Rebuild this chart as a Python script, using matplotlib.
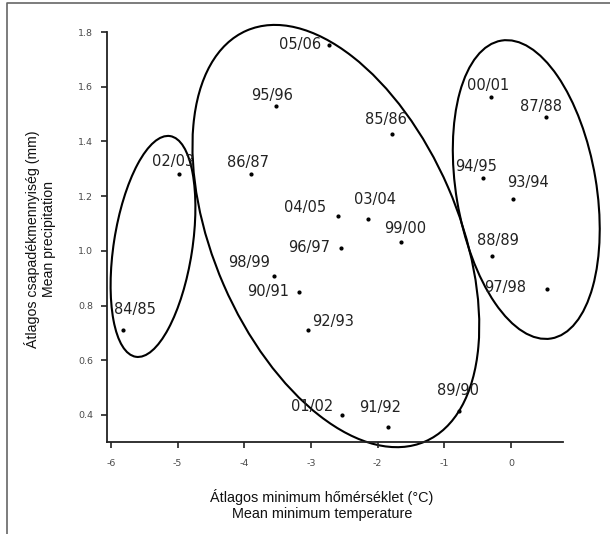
import matplotlib
matplotlib.use("Agg")
import matplotlib.pyplot as plt
from matplotlib.patches import Ellipse
from matplotlib.transforms import Affine2D
from matplotlib.lines import Line2D

plt.rcParams['axes.unicode_minus'] = False

# winter seasons: mean minimum temperature (°C) and mean precipitation (mm)
seasons = ['05/06', '95/96', '02/03', '86/87', '84/85', '98/99', '90/91',
           '92/93', '01/02', '91/92', '89/90', '97/98', '00/01', '87/88',
           '85/86', '94/95', '93/94', '04/05', '03/04', '99/00', '96/97', '88/89']
tmin = [-2.73, -3.52, -4.98, -3.90, -5.82, -3.56, -3.18,
        -3.05, -2.54, -1.85, -0.78, 0.54, -0.30, 0.52,
        -1.79, -0.42, 0.03, -2.60, -2.15, -1.65, -2.55, -0.28]
precip = [1.752, 1.53, 1.281, 1.28, 0.71, 0.908, 0.85,
          0.71, 0.40, 0.356, 0.415, 0.86, 1.562, 1.49,
          1.427, 1.266, 1.19, 1.127, 1.117, 1.032, 1.01, 0.98]

# label placement relative to each point, in pixels (dx, dy)
label_offsets = [(-29, 1), (-4, 10), (-6, 12), (-3, 12), (12, 21), (-25, 13), (-31, 0),
                 (25, 9), (-30, 8), (-8, 19), (-1, 20), (-42, 2), (-3, 12), (-5, 10),
                 (-6, 15), (-7, 12), (15, 16), (-33, 9), (7, 19), (4, 14), (-32, 1), (6, 16)]

xticks = [-6, -5, -4, -3, -2, -1, 0]
xtick_labels = ['-6', '-5', '-4', '-3', '-2', '-1', '0']
yticks = [0.4, 0.6, 0.8, 1.0, 1.2, 1.4, 1.6, 1.8]
ytick_labels = ['0.4', '0.6', '0.8', '1.0', '1.2', '1.4', '1.6', '1.8']

# cluster outlines: centre (x, y), half-width and half-length in x units, tilt in degrees
clusters = [(-5.37, 1.016, 0.589, 1.675, -8.8),
            (-2.627, 1.054, 1.835, 3.36, 23.5),
            (0.229, 1.224, 1.051, 2.265, 9.5)]

W, H = 610, 534
fig = plt.figure(figsize=(W / 100, H / 100), dpi=100)
ax = fig.add_axes([107 / W, 92 / H, 456 / W, 410 / H])
ax.set_xlim(-6.06, 0.78)
ax.set_ylim(0.301, 1.80)

ax.scatter(tmin, precip, s=4, color='black', zorder=3)
for name, x, y, (dx, dy) in zip(seasons, tmin, precip, label_offsets):
    ax.annotate(name, (x, y), xytext=(dx, dy), textcoords='offset pixels',
                ha='center', va='center', fontsize=10.5, color='#222222',
                family='DejaVu Sans', annotation_clip=False)

# ellipses drawn in a frame where x and y have the same pixel scale
bbox = ax.get_position()
sx = bbox.width * W / (0.78 + 6.06)
sy = bbox.height * H / (1.80 - 0.301)
k = sy / sx
tr = Affine2D().scale(1, 1 / k) + ax.transData
for cx, cy, b, a, ang in clusters:
    ax.add_patch(Ellipse((cx, cy * k), width=2 * b, height=2 * a, angle=ang,
                         fill=False, lw=1.5, color='black', transform=tr, clip_on=False))

ax.spines['top'].set_visible(False)
ax.spines['right'].set_visible(False)
for s in ('left', 'bottom'):
    ax.spines[s].set_linewidth(1.3)
    ax.spines[s].set_color('#222222')

ax.set_xticks(xticks)
ax.set_xticklabels(xtick_labels)
ax.set_yticks(yticks)
ax.set_yticklabels(ytick_labels)
ax.tick_params(axis='both', length=4, width=1.2, color='#222222', labelsize=6.8,
               labelcolor='#4a4a4a')
ax.tick_params(axis='x', pad=8)
ax.tick_params(axis='y', pad=6)

fig.text(322 / W, 1 - 505 / H, 'Átlagos minimum hőmérséklet (°C)\nMean minimum temperature',
         ha='center', va='center', fontsize=10.4, family='Liberation Sans',
         linespacing=1.1, color='#111111')
fig.text(40 / W, 1 - 239 / H, 'Átlagos csapadékmennyiség (mm)\nMean precipitation',
         ha='center', va='center', rotation=90, fontsize=10.2, family='Liberation Sans',
         linespacing=1.1, color='#111111')

# thin frame along the top and left edges
fig.add_artist(Line2D([7 / W, 7 / W, 1], [0, 1 - 3 / H, 1 - 3 / H],
                      transform=fig.transFigure, color='#666666', lw=1.2))

fig.savefig('out.png', dpi=100)
